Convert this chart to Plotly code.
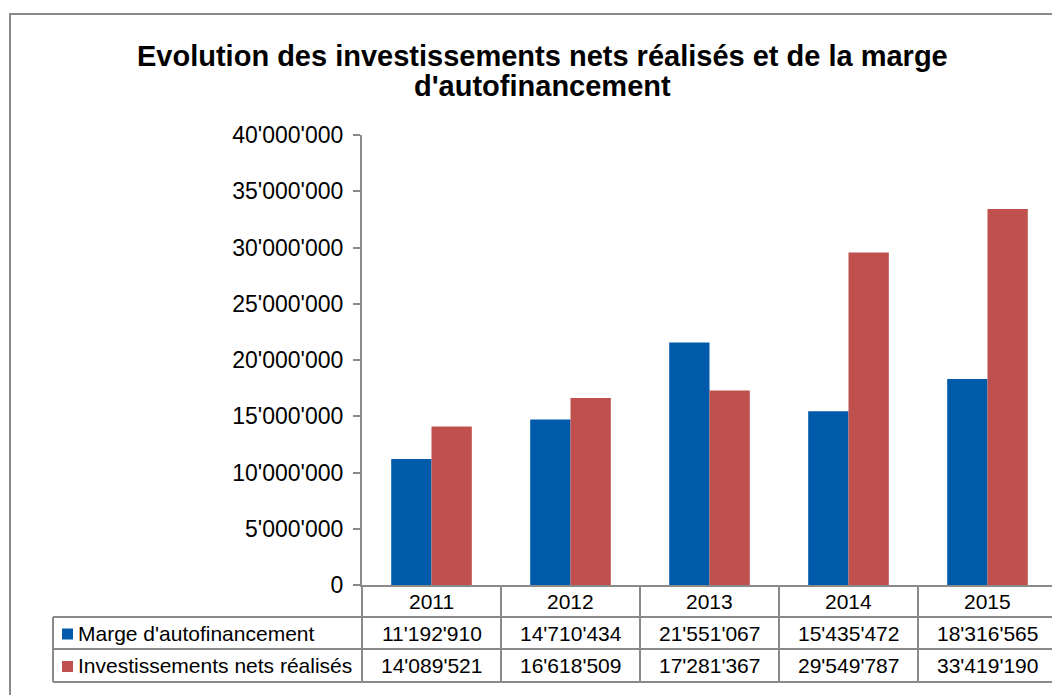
import plotly.graph_objects as go

# ---- data ----
years = ["2011", "2012", "2013", "2014", "2015"]
marge = [11192910, 14710434, 21551067, 15435472, 18316565]
invest = [14089521, 16618509, 17281367, 29549787, 33419190]
series_names = ["Marge d'autofinancement", "Investissements nets réalisés"]
colors = ["#005AAA", "#C0504D"]
y_ticks = [0, 5000000, 10000000, 15000000, 20000000, 25000000, 30000000, 35000000, 40000000]
title_lines = ["Evolution des investissements nets réalisés et de la marge", "d'autofinancement"]

# ---- layout geometry (page pixels) ----
W, H = 1052, 695
PLOT_L, PLOT_T, PLOT_B = 362, 135, 585
L, T, B, R = PLOT_L, PLOT_T, H - PLOT_B, 0
PW = W - L - R
PH = H - T - B
CAT_W = 139.0
GRAY = "#8A8A8A"
FONT = "Arial, Liberation Sans, sans-serif"


def px(xp):
    return (xp - PLOT_L) / PW


def py(yp):
    return (PLOT_B - yp) / PH


def fmt(v):
    return f"{v:,}".replace(",", "'")


fig = go.Figure()
for name, vals, col in zip(series_names, [marge, invest], colors):
    fig.add_trace(go.Bar(x=list(range(len(years))), y=vals, name=name,
                         marker=dict(color=col, line=dict(width=0))))

shapes = []
annotations = []

# outer chart border (extends beyond the visible area)
shapes.append(dict(type="rect", xref="paper", yref="paper",
                   x0=px(10), x1=px(1100), y0=py(14), y1=py(760),
                   line=dict(color=GRAY, width=2), fillcolor="rgba(0,0,0,0)", layer="below"))

# data table
row_y = [PLOT_B, PLOT_B + 32, PLOT_B + 64, PLOT_B + 97]
legend_left = 53
for yy in row_y[1:]:
    shapes.append(dict(type="line", xref="paper", yref="paper",
                       x0=px(legend_left), x1=px(1100), y0=py(yy), y1=py(yy),
                       line=dict(color=GRAY, width=2)))
shapes.append(dict(type="line", xref="paper", yref="paper",
                   x0=px(legend_left), x1=px(legend_left), y0=py(row_y[1]), y1=py(row_y[3]),
                   line=dict(color=GRAY, width=2)))
for i in range(len(years) + 1):
    xb = PLOT_L + i * CAT_W
    shapes.append(dict(type="line", xref="paper", yref="paper",
                       x0=px(xb), x1=px(xb), y0=py(row_y[0]), y1=py(row_y[3]),
                       line=dict(color=GRAY, width=2)))

for i, yr in enumerate(years):
    xc = px(PLOT_L + (i + 0.5) * CAT_W)
    annotations.append(dict(text=yr, xref="paper", yref="paper", x=xc,
                            y=py((row_y[0] + row_y[1]) / 2), showarrow=False,
                            xanchor="center", yanchor="middle",
                            font=dict(family=FONT, size=21, color="black")))
    for r, vals in enumerate([marge, invest]):
        annotations.append(dict(text=fmt(vals[i]), xref="paper", yref="paper", x=xc,
                                y=py((row_y[r + 1] + row_y[r + 2]) / 2), showarrow=False,
                                xanchor="center", yanchor="middle",
                                font=dict(family=FONT, size=21, color="black")))

for r, (name, col) in enumerate(zip(series_names, colors)):
    yc = (row_y[r + 1] + row_y[r + 2]) / 2
    shapes.append(dict(type="rect", xref="paper", yref="paper",
                       x0=px(62), x1=px(73), y0=py(yc - 4.5), y1=py(yc + 6.5),
                       line=dict(width=0), fillcolor=col))
    annotations.append(dict(text=name, xref="paper", yref="paper", x=px(76),
                            y=py(yc), showarrow=False, xanchor="left", yanchor="middle",
                            font=dict(family=FONT, size=21, color="black")))

# title (two lines, tight spacing)
for line, yc in zip(title_lines, [56, 86]):
    annotations.append(dict(text="<b>" + line + "</b>", xref="paper", yref="paper",
                            x=px(542), y=py(yc), showarrow=False,
                            xanchor="center", yanchor="middle",
                            font=dict(family=FONT, size=29, color="black")))

fig.update_layout(
    width=W, height=H,
    margin=dict(l=L, r=R, t=T, b=B, autoexpand=False),
    paper_bgcolor="white", plot_bgcolor="white",
    barmode="group", bargap=0.42, bargroupgap=0,
    showlegend=False,
    separators=".'",
    shapes=shapes, annotations=annotations,
    font=dict(family=FONT, color="black"),
)
fig.update_xaxes(range=[-0.5, -0.5 + PW / CAT_W], showticklabels=False,
                 showgrid=False, zeroline=False, showline=True, linecolor=GRAY,
                 linewidth=2, ticks="")
fig.update_yaxes(range=[0, 40000000], tickvals=y_ticks, tickformat=",d",
                 showgrid=False, zeroline=False, showline=True, linecolor=GRAY,
                 linewidth=2, ticks="outside", ticklen=7, tickcolor=GRAY, tickwidth=2,
                 ticklabelstandoff=5,
                 tickfont=dict(family=FONT, size=23, color="black"))

fig.write_html("out.html", config={"displayModeBar": False},
               post_script="document.body.style.margin='0';document.body.style.overflow='hidden';")
